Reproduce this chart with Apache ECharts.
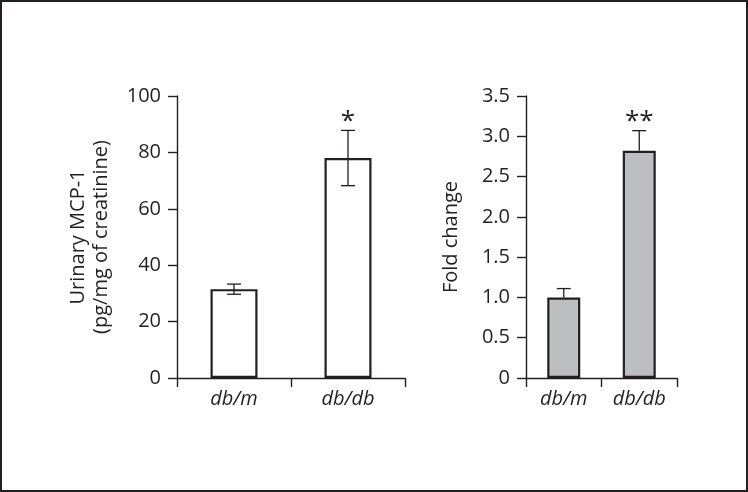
<!DOCTYPE html>
<html><head><meta charset="utf-8">
<script src="https://cdn.jsdelivr.net/npm/echarts@6/dist/echarts.min.js"></script>
<style>html,body{margin:0;padding:0;background:#fff}#c{width:748px;height:492px}</style>
</head><body><div id="c"></div>
<script>
const categories = ['db/m', 'db/db'];
const mcpValues = [31.5, 78];
const mcpErrors = [1.8, 9.8];
const mcpMarks = ['', '*'];
const foldValues = [1.0, 2.82];
const foldErrors = [0.11, 0.25];
const foldMarks = ['', '**'];
const mcpTicks = [0, 20, 40, 60, 80, 100];
const foldTicks = [0, 0.5, 1.0, 1.5, 2.0, 2.5, 3.0, 3.5];

const ink = '#231f20';
const font = '"Open Sans", "Noto Sans", sans-serif';

function errItem(both) {
  return function (params, api) {
    const x = api.value(0), v = api.value(1), e = api.value(2);
    const top = api.coord([x, v + e]);
    const bot = api.coord([x, both ? v - e : v]);
    const half = 7;
    const children = [
      {type: 'line', shape: {x1: top[0], y1: top[1], x2: bot[0], y2: bot[1]}, style: {stroke: ink, lineWidth: 1.3}},
      {type: 'line', shape: {x1: top[0] - half, y1: top[1], x2: top[0] + half, y2: top[1]}, style: {stroke: ink, lineWidth: 1.3}}
    ];
    if (both) children.push({type: 'line', shape: {x1: bot[0] - half, y1: bot[1], x2: bot[0] + half, y2: bot[1]}, style: {stroke: ink, lineWidth: 1.3}});
    const mark = params.seriesIndex === 1 ? mcpMarks[params.dataIndex] : foldMarks[params.dataIndex];
    if (mark) children.push({type: 'text', x: top[0], y: top[1] - 9, style: {text: mark, fill: ink, font: '26px ' + font, textAlign: 'center', textVerticalAlign: 'middle'}});
    return {type: 'group', children};
  };
}

const axisLine = {show: true, lineStyle: {color: ink, width: 1.4}};
const axisTick = {show: true, length: 9, inside: false, lineStyle: {color: ink, width: 1.4}};

function yAxis(idx, ticks, name, fmt, gap) {
  return {
    type: 'value', gridIndex: idx, min: ticks[0], max: ticks[ticks.length - 1], interval: ticks[1] - ticks[0],
    name: name, nameLocation: 'middle', nameGap: gap,
    nameTextStyle: {fontFamily: font, fontSize: 20, color: ink, lineHeight: 23},
    axisLine, axisTick, splitLine: {show: false},
    axisLabel: {fontFamily: font, fontSize: 20, color: ink, margin: 16, formatter: fmt}
  };
}
function xAxis(idx) {
  return {
    type: 'category', gridIndex: idx, data: categories, boundaryGap: true,
    axisLine, axisTick: {show: true, length: 9, alignWithLabel: false, lineStyle: {color: ink, width: 1.4}},
    axisLabel: {fontFamily: font, fontSize: 20, fontStyle: 'italic', color: ink, margin: 11}
  };
}

const chart = echarts.init(document.getElementById('c'));
chart.setOption({
  backgroundColor: '#fff',
  animation: false,
  graphic: [{type: 'rect', shape: {x: 1, y: 1, width: 746, height: 490}, style: {fill: 'none', stroke: ink, lineWidth: 2}, z: 100}],
  grid: [
    {left: 177, top: 96, width: 228, height: 282},
    {left: 526, top: 96, width: 151, height: 282}
  ],
  xAxis: [xAxis(0), xAxis(1)],
  yAxis: [
    yAxis(0, mcpTicks, 'Urinary MCP-1\n(pg/mg of creatinine)', v => String(v), 64),
    yAxis(1, foldTicks, 'Fold change', v => v === 0 ? '0' : v.toFixed(1), 63)
  ],
  series: [
    {type: 'bar', xAxisIndex: 0, yAxisIndex: 0, data: mcpValues, barWidth: 47,
     itemStyle: {color: '#fff', borderColor: ink, borderWidth: 2.2}, z: 2},
    {type: 'custom', xAxisIndex: 0, yAxisIndex: 0, renderItem: errItem(true),
     data: mcpValues.map((v, i) => [i, v, mcpErrors[i]]), z: 3},
    {type: 'bar', xAxisIndex: 1, yAxisIndex: 1, data: foldValues, barWidth: 33,
     itemStyle: {color: '#bcbec0', borderColor: ink, borderWidth: 2.2}, z: 2},
    {type: 'custom', xAxisIndex: 1, yAxisIndex: 1, renderItem: errItem(false),
     data: foldValues.map((v, i) => [i, v, foldErrors[i]]), z: 1}
  ]
});
</script></body></html>
